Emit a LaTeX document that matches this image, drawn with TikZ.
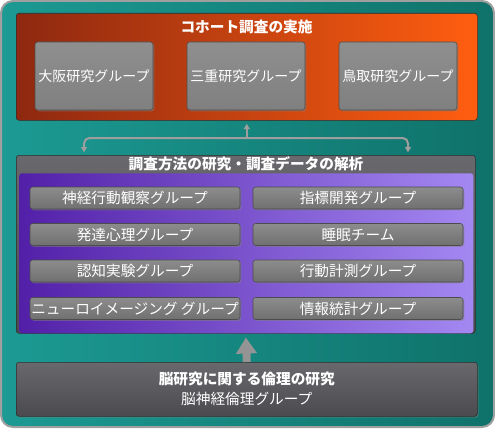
\documentclass[tikz,border=0pt]{standalone}
\usepackage{fontspec}
\setmainfont{Noto Sans CJK JP}
\usetikzlibrary{arrows.meta,shadows}
\newdimen\ux \ux=0.75pt
\definecolor{tealA}{HTML}{1C9A93}
\definecolor{tealB}{HTML}{0F726A}
\definecolor{rustA}{HTML}{8E2810}
\definecolor{rustB}{HTML}{FF5E10}
\definecolor{plumA}{HTML}{5220A8}
\definecolor{plumB}{HTML}{A488F2}
\definecolor{slateA}{HTML}{68686D}
\definecolor{slateB}{HTML}{4A4A4F}

\begin{document}
\begin{tikzpicture}[x=0.75pt, y=-0.75pt, >={Triangle[length=4pt,width=4.5pt]},
  every node/.style={text=white, inner sep=0pt, font=\fontsize{11}{15}\selectfont},
  grpbox/.style={rounded corners=2pt, draw=black!70, top color=black!45, bottom color=black!56,
    drop shadow={shadow xshift=1pt, shadow yshift=-1pt, opacity=.5},
    minimum width=210\ux, minimum height=22\ux},
  sitebox/.style={grpbox, top color=black!44, bottom color=black!50, minimum width=118\ux, minimum height=68\ux, font=\fontsize{10.5}{13}\selectfont},
  frame/.style={anchor=north west, rounded corners=2pt, draw=gray!35!black},
  link/.style={draw=black!38, line width=1.5pt}]
  \useasboundingbox (0,0) rectangle (495,428);
  % teal background
  \path[draw=gray!75, line width=1.5pt, rounded corners=9pt, left color=tealA, right color=tealB] (1,1) rectangle (494,427);
  % cohort study
  \node[frame, left color=rustA, right color=rustB, minimum width=461\ux, minimum height=107\ux] (cohort) at (16,13) {};
  \node[font=\fontsize{11}{13}\selectfont\bfseries] (cohorttitle) at (246.5,27) {コホート調査の実施};
  \node[sitebox] (osaka) at (94,76) {大阪研究グループ};
  \node[sitebox] (mie) at (246,76) {三重研究グループ};
  \node[sitebox] (tottori) at (398,76) {鳥取研究グループ};
  % methods and analysis
  \node[frame, top color=slateA, bottom color=slateB, minimum width=459\ux, minimum height=178\ux] (survey) at (16,155) {};
  \node[frame, draw=none, left color=plumA, right color=plumB, minimum width=454\ux, minimum height=160\ux] (surveyin) at (19,173) {};
  \node[font=\fontsize{11}{13}\selectfont\bfseries] (surveytitle) at (246,164) {調査方法の研究・調査データの解析};
  \node[grpbox] (neuro) at (135,198) {神経行動観察グループ};
  \node[grpbox] (devel) at (135,234.5) {発達心理グループ};
  \node[grpbox] (cogn) at (135,271) {認知実験グループ};
  \node[grpbox] (imaging) at (135,308.5) {ニューロイメージング グループ};
  \node[grpbox] (index) at (358,198) {指標開発グループ};
  \node[grpbox] (sleep) at (358,234.5) {睡眠チーム};
  \node[grpbox] (motion) at (358,271) {行動計測グループ};
  \node[grpbox] (stats) at (358,308.5) {情報統計グループ};
  % ethics
  \node[frame, top color=slateA, bottom color=slateB, minimum width=461\ux, minimum height=54\ux,
    drop shadow={shadow xshift=1pt, shadow yshift=-1pt, opacity=.4}] (ethics) at (16,362) {};
  \node[align=center] (ethicstext) at (ethics.center) {{\bfseries 脳研究に関する倫理の研究}\\脳神経倫理グループ};
  % connectors
  \coordinate (jl) at (84,138);
  \coordinate (jr) at (408,138);
  \draw[link, <->, rounded corners=4pt, shorten <=2pt, shorten >=2pt] (jl |- survey.north) -- (jl) -- (jr) -- (jr |- survey.north);
  \draw[link, ->, shorten >=2.5pt] (jl -| cohort.south) -- (cohort.south);
  \draw[draw=black!42, line width=6pt, -{Triangle[length=12pt,width=15pt]}, shorten >=3pt] (ethics.north) -- (survey.south);
\end{tikzpicture}
\end{document}
